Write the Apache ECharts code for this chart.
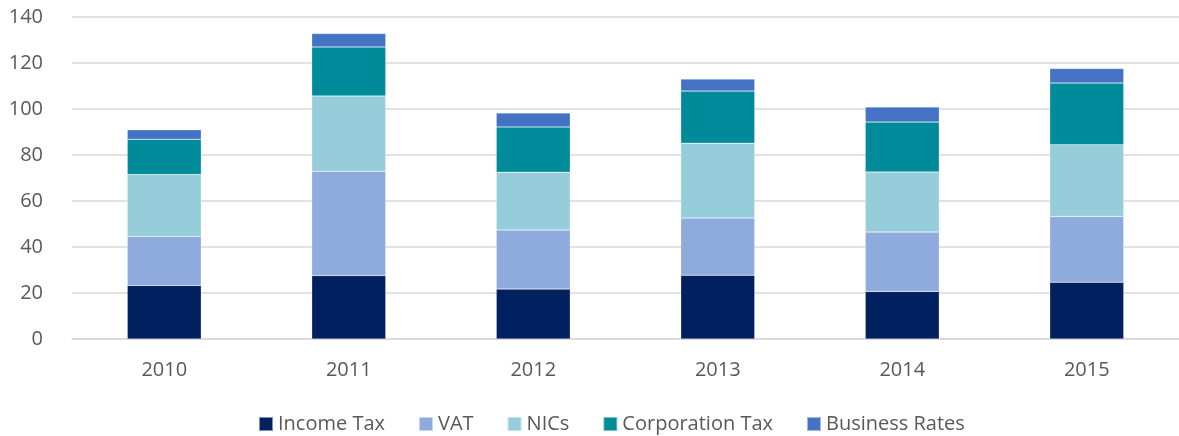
<!DOCTYPE html>
<html>
<head>
<meta charset="utf-8">
<script src="https://cdn.jsdelivr.net/npm/echarts@6/dist/echarts.min.js"></script>
<style>
  html, body { margin: 0; padding: 0; background: #fff; }
  #chart { width: 1179px; height: 436px; }
</style>
</head>
<body>
<div id="chart"></div>
<script>
// years on the x axis
var years = ['2010', '2011', '2012', '2013', '2014', '2015'];
// stacked segments
var incomeTax = [23.3, 27.6, 21.7, 27.7, 20.7, 24.7];
var vat = [21.3, 45.3, 25.7, 24.9, 25.8, 28.6];
var nics = [26.9, 32.8, 25.1, 32.5, 26.1, 31.2];
var corporationTax = [15.3, 21.3, 19.7, 22.7, 21.7, 26.8];
var businessRates = [4.2, 5.8, 6.1, 5.2, 6.6, 6.3];

var seriesNames = ['Income Tax', 'VAT', 'NICs', 'Corporation Tax', 'Business Rates'];
var seriesData = [incomeTax, vat, nics, corporationTax, businessRates];
var colors = ['#00205F', '#8FAADC', '#95CDDB', '#008B9B', '#4472C4'];

var chart = echarts.init(document.getElementById('chart'));

var series = [];
for (var i = 0; i < seriesNames.length; i++) {
  series.push({
    name: seriesNames[i],
    type: 'bar',
    stack: 'total',
    barWidth: 74,
    data: seriesData[i],
    itemStyle: {
      color: colors[i],
      borderColor: 'rgba(255,255,255,0.5)',
      borderWidth: 0.5
    }
  });
}

var option = {
  animation: false,
  textStyle: { fontFamily: 'Open Sans' },
  color: colors,
  grid: {
    left: 72,
    right: -3,
    top: 17,
    bottom: 97
  },
  legend: {
    top: 409,
    left: 253,
    itemWidth: 14,
    itemHeight: 14,
    itemGap: 33,
    icon: 'rect',
    textStyle: { color: '#595959', fontSize: 20, fontFamily: 'Open Sans' },
    data: seriesNames
  },
  xAxis: {
    type: 'category',
    data: years,
    axisLine: { lineStyle: { color: '#D9D9D9', width: 1.5 } },
    axisTick: { show: false },
    axisLabel: { color: '#595959', fontSize: 20, margin: 21 }
  },
  yAxis: {
    type: 'value',
    min: 0,
    max: 140,
    interval: 20,
    axisLine: { show: false },
    axisTick: { show: false },
    axisLabel: { color: '#595959', fontSize: 20, margin: 29 },
    splitLine: { lineStyle: { color: '#D9D9D9', width: 1.5 } }
  },
  series: series
};

chart.setOption(option);
</script>
</body>
</html>
